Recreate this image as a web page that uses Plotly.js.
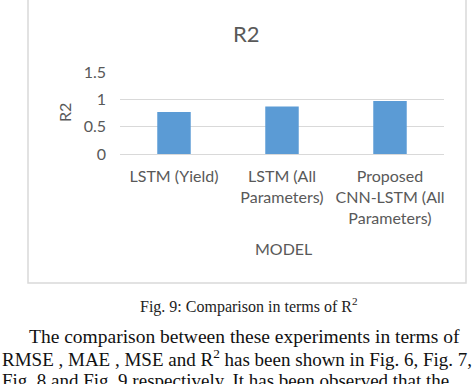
<!DOCTYPE html>
<html><head><meta charset="utf-8">
<script src="https://cdn.plot.ly/plotly-3.0.1.min.js"></script>
<style>html,body{margin:0;padding:0;background:#fff;}#c{width:474px;height:384px;}</style>
</head><body><div id="c"></div>
<script>
const categories = ["LSTM (Yield)", "LSTM (All<br>Parameters)", "Proposed<br>CNN-LSTM (All<br>Parameters)"];
const r2Values = [0.77, 0.87, 0.97];
const yTickVals = [0, 0.5, 1, 1.5];
const yTickText = ["0", "0.5", "1", "1.5"];
const chartTitle = "R2";
const xTitle = "MODEL";
const yTitle = "R2";
const caption = "Fig. 9: Comparison in terms of R<sup>2</sup>";
const bodyLines = [
  "The comparison between these experiments in terms of",
  "RMSE , MAE , MSE and R<sup>2</sup> has been shown in Fig. 6, Fig. 7,",
  "Fig. 8 and Fig. 9 respectively. It has been observed that the"
];

const W = 474, H = 384;
const px = x => x / W;
const py = y => 1 - y / H;
const grey = "#595959";
const sans = "Lato, 'Open Sans', sans-serif";
const serif = "'Liberation Serif', 'DejaVu Serif', serif";

const annotations = [
  {text: chartTitle, x: px(247), y: py(33), xref: "paper", yref: "paper", showarrow: false,
   font: {family: sans, size: 22, color: grey}, xanchor: "center", yanchor: "middle"},
  {text: yTitle, x: px(65), y: py(113), xref: "paper", yref: "paper", showarrow: false, textangle: -90,
   font: {family: sans, size: 16, color: grey}, xanchor: "center", yanchor: "middle"},
  {text: xTitle, x: px(283), y: py(248), xref: "paper", yref: "paper", showarrow: false,
   font: {family: sans, size: 16, color: grey}, xanchor: "center", yanchor: "middle"},
  {text: caption, x: px(249), y: py(305), xref: "paper", yref: "paper", showarrow: false,
   font: {family: serif, size: 16, color: "#222"}, xanchor: "center", yanchor: "middle"},
  {text: bodyLines[0], x: px(27), y: py(336), xref: "paper", yref: "paper", showarrow: false,
   font: {family: serif, size: 19.5, color: "#111"}, xanchor: "left", yanchor: "middle"},
  {text: bodyLines[1], x: px(0), y: py(358), xref: "paper", yref: "paper", showarrow: false,
   font: {family: serif, size: 19, color: "#111"}, xanchor: "left", yanchor: "middle"},
  {text: bodyLines[2], x: px(0), y: py(380), xref: "paper", yref: "paper", showarrow: false,
   font: {family: serif, size: 19, color: "#111"}, xanchor: "left", yanchor: "middle"}
];

const data = [{
  type: "bar", x: categories, y: r2Values,
  marker: {color: "#5b9bd5"}, hoverinfo: "x+y"
}];

const layout = {
  width: W, height: H,
  margin: {l: 0, r: 0, t: 0, b: 0},
  paper_bgcolor: "#fff", plot_bgcolor: "#fff",
  showlegend: false,
  bargap: 0.69,
  xaxis: {domain: [px(120), px(444)], showline: true, linecolor: "#d9d9d9", linewidth: 1,
          ticks: "", ticklabelstandoff: 8, tickfont: {family: sans, size: 16, color: grey}, fixedrange: true},
  yaxis: {domain: [py(154), py(72)], range: [0, 1.5], tickvals: yTickVals, ticktext: yTickText,
          showgrid: true, gridcolor: "#d9d9d9", gridwidth: 1, zeroline: false, showline: false,
          ticks: "", ticklabelstandoff: 13, tickfont: {family: sans, size: 16, color: grey}, fixedrange: true},
  shapes: [{type: "rect", xref: "paper", yref: "paper", x0: px(28), x1: px(466), y0: py(283), y1: py(-2),
            line: {color: "#d9d9d9", width: 1.5}, fillcolor: "rgba(0,0,0,0)"}],
  annotations: annotations
};

Plotly.newPlot("c", data, layout, {displayModeBar: false, staticPlot: true});
</script></body></html>
